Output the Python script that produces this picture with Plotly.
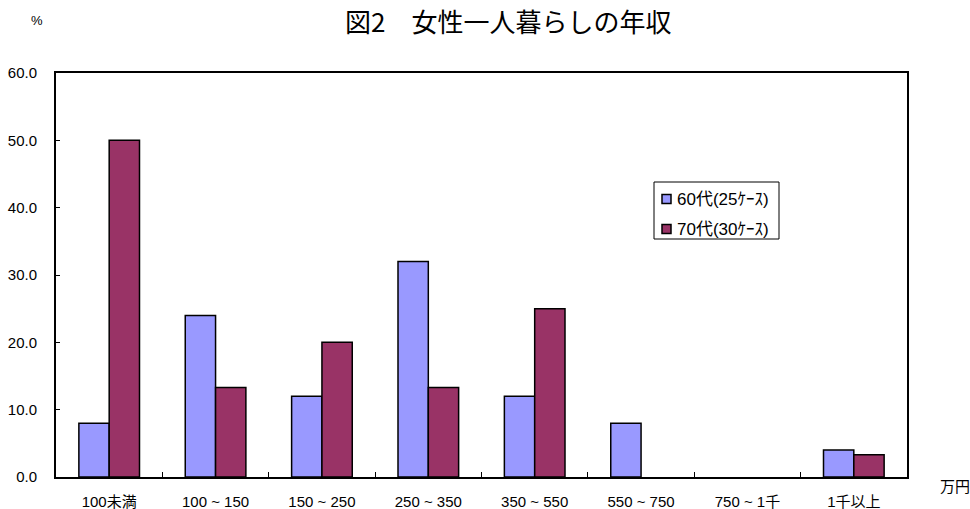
import plotly.graph_objects as go

categories = ["100未満", "100 ~ 150", "150 ~ 250", "250 ~ 350", "350 ~ 550", "550 ~ 750", "750 ~ 1千", "1千以上"]
age60 = [8.0, 24.0, 12.0, 32.0, 12.0, 8.0, 0.0, 4.0]
age70 = [50.0, 13.3, 20.0, 13.3, 25.0, 0.0, 0.0, 3.3]
series_names = ["60代(25ｹｰｽ)", "70代(30ｹｰｽ)"]
series_colors = ["#9999FF", "#993366"]
y_ticks = [0, 10, 20, 30, 40, 50, 60]

FONT = "'Liberation Sans', 'Noto Sans CJK JP', sans-serif"
CJK = "'Noto Sans CJK JP', sans-serif"

W, H = 970, 509
M_L, M_R, M_T, M_B = 56, 63, 73, 32
PLOT_W, PLOT_H = W - M_L - M_R, H - M_T - M_B


def px_x(px):
    """pixel column -> paper x"""
    return (px - M_L) / PLOT_W


def px_y(py):
    """pixel row -> paper y"""
    return (H - M_B - py) / PLOT_H


def outline_widths(values):
    # zero-height bars get no outline so they don't thicken the axis line
    return [1.5 if v > 0 else 0 for v in values]


fig = go.Figure()
for name, vals, col in zip(series_names, [age60, age70], series_colors):
    fig.add_trace(go.Bar(x=categories, y=vals, name=name, showlegend=False,
                         marker=dict(color=col,
                                     line=dict(color="black", width=outline_widths(vals)))))

fig.update_layout(
    width=W, height=H,
    margin=dict(l=M_L, r=M_R, t=M_T, b=M_B, autoexpand=False),
    paper_bgcolor="white", plot_bgcolor="white",
    barmode="group", bargap=0.43, bargroupgap=0,
    font=dict(family=FONT, size=15, color="black"),
    showlegend=False,
)

# chart title
fig.add_annotation(text="図2　女性一人暮らしの年収", xref="paper", yref="paper",
                   x=px_x(508), y=px_y(20), xanchor="center", yanchor="middle",
                   showarrow=False, font=dict(family=CJK, size=26, color="black"))

fig.update_xaxes(type="category", showline=True, linecolor="black", linewidth=2,
                 mirror=True, ticks="inside", tickson="boundaries", ticklen=5,
                 tickcolor="black", showgrid=False, ticklabelstandoff=10,
                 automargin=False, tickfont=dict(family=FONT, size=15))
fig.update_yaxes(range=[0, 60], tickvals=y_ticks, tickformat=".1f",
                 showline=True, linecolor="black", linewidth=2, mirror=True,
                 ticks="inside", ticklen=4, tickcolor="black", showgrid=False,
                 zeroline=False, ticklabelstandoff=14, automargin=False,
                 tickfont=dict(family=FONT, size=15))

# legend box with small colour swatches
fig.add_shape(type="rect", xref="paper", yref="paper",
              x0=px_x(654), x1=px_x(779), y0=px_y(239), y1=px_y(182),
              line=dict(color="black", width=1), fillcolor="white", layer="above")
for i, (name, col) in enumerate(zip(series_names, series_colors)):
    row = 199 + 30 * i
    fig.add_shape(type="rect", xref="paper", yref="paper",
                  x0=px_x(662), x1=px_x(671), y0=px_y(row + 4.5), y1=px_y(row - 4.5),
                  line=dict(color="black", width=1.5), fillcolor=col, layer="above")
    fig.add_annotation(text=name, xref="paper", yref="paper", x=px_x(675), y=px_y(row),
                       xanchor="left", yanchor="middle", showarrow=False,
                       font=dict(family=FONT, size=17))

fig.add_annotation(text="%", xref="paper", yref="paper", x=px_x(37), y=px_y(20),
                   xanchor="center", yanchor="middle",
                   showarrow=False, font=dict(family=FONT, size=13))
fig.add_annotation(text="万円", xref="paper", yref="paper", x=px_x(955), y=px_y(485),
                   xanchor="center", yanchor="middle",
                   showarrow=False, font=dict(family=CJK, size=15))

fig.write_html("out.html")
